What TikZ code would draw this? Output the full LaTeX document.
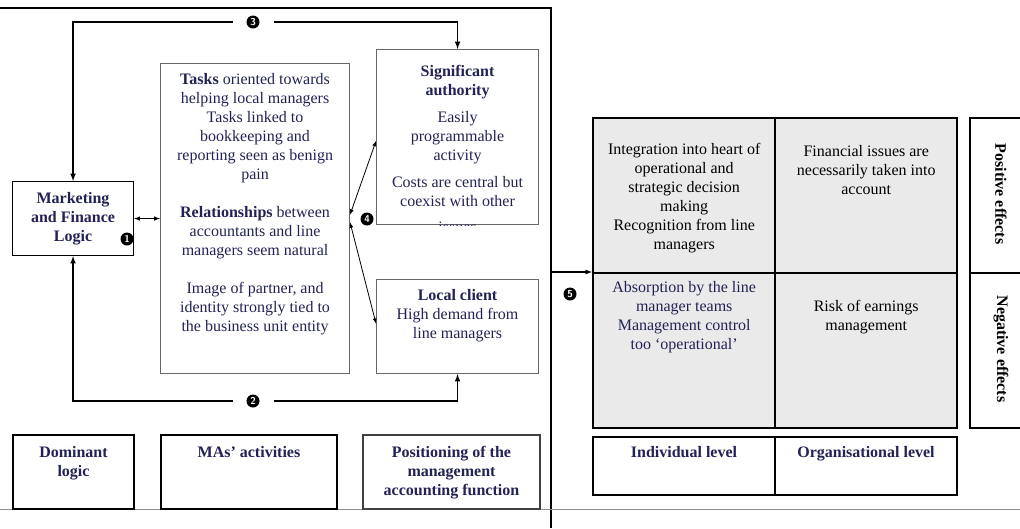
\documentclass[tikz,border=0pt]{standalone}
\usepackage{fontspec}
\setmainfont{Liberation Serif}
\usepackage[usenames,dvipsnames]{xcolor}
\usetikzlibrary{positioning,shapes,arrows,calc}
\definecolor{inkblue}{RGB}{34,34,84}
\definecolor{cellgray}{RGB}{234,234,234}

\begin{document}
\begin{tikzpicture}[x=1pt,y=-1pt,
    every node/.style={font=\fontsize{16}{19}\selectfont},
    box/.style={draw, line width=1.1pt, inner sep=0pt, anchor=north west},
    softbox/.style={draw=black!60, line width=1.1pt, inner sep=0pt, anchor=north west},
    lowbox/.style={draw, line width=2pt, inner sep=0pt, anchor=north west},
    cell/.style={draw, line width=2.4pt, fill=cellgray, inner sep=0pt, anchor=north west},
    txt/.style={align=center, inner sep=0pt, text=inkblue},
    head/.style={txt, font=\fontsize{16}{19}\selectfont\bfseries},
    num/.style={circle, fill=black, text=white, inner sep=0pt, minimum size=13pt, font=\fontsize{10}{10}\sffamily\bfseries},
    gap/.style={outer sep=14pt},
    arr/.style={-latex, line width=1.5pt},
    thin arr/.style={latex-latex, line width=0.8pt}]
\clip (0,0) rectangle (1020,528);

% frame and base line
\draw[line width=1.5pt] (0,8) -| (551,528);
\draw[black!45, line width=1pt] (0,509) -- (1020,509);

% dominant logic, activities, positioning
\node[box, head, minimum width=121pt, minimum height=74pt] (mfl) at (12,181) {Marketing\\and Finance\\Logic};
\node[num] (n1) at (127,239) {1};

\node[softbox, minimum width=189pt, minimum height=310pt] (mid) at (160,63) {};
\node[txt, below=10pt of mid.north] (midtxt) {\textbf{Tasks} oriented towards\\helping local managers\\Tasks linked to\\bookkeeping and\\reporting seen as benign\\pain\\[19pt]\textbf{Relationships} between\\accountants and line\\managers seem natural\\[19pt]Image of partner, and\\identity strongly tied to\\the business unit entity};

\node[softbox, minimum width=162pt, minimum height=175pt] (sig) at (376,49) {};
\begin{scope}
  \clip (sig.north west) rectangle (sig.south east);
  \node[txt, below=16pt of sig.north] (sigtxt) {\textbf{Significant}\\\textbf{authority}\\[8pt]Easily\\programmable\\activity\\[8pt]Costs are central but\\coexist with other\\[7pt]issues};
\end{scope}

\node[softbox, minimum width=162pt, minimum height=94pt] (loc) at (376,279) {};
\node[txt, below=10pt of loc.north] (loctxt) {\textbf{Local client}\\High demand from\\line managers};

\node[num, gap] (n3) at (253,22) {3};
\node[num, gap] (n2) at (253,401) {2};
\node[num] (n4) at (367,219) {4};

\draw[arr] (n3) -| (mfl);
\draw[arr] (n3) -| (sig);
\draw[arr] (n2) -| (mfl);
\draw[arr] (n2) -| (loc);
\draw[latex-latex, line width=1pt] (mfl) -- (mid);
\draw[thin arr] ([yshift=4pt]mid.east) -- ([yshift=-4pt]sig.west);
\draw[thin arr] ([yshift=-4pt]mid.east) -- ([yshift=3pt]loc.west);

\node[lowbox, minimum width=121pt, minimum height=74pt] (dom) at (12,434) {};
\node[head, below=12pt of dom.north] (domtxt) {Dominant\\logic};
\node[lowbox, minimum width=176pt, minimum height=74pt] (act) at (160,434) {};
\node[head, below=12pt of act.north] (acttxt) {MAs’ activities};
\node[lowbox, draw=black!75, minimum width=177pt, minimum height=74pt] (posn) at (362,434) {};
\node[head, below=12pt of posn.north] (posntxt) {Positioning of the\\management\\accounting function};

% effects grid
\node[cell, minimum width=182pt, minimum height=155pt] (c11) at (592,117) {};
\node[cell, minimum width=182pt, minimum height=155pt] (c12) at (774,117) {};
\node[cell, minimum width=182pt, minimum height=155pt] (c21) at (592,272) {};
\node[cell, minimum width=182pt, minimum height=155pt] (c22) at (774,272) {};
\node[txt, text=black, below=26pt of c11.north] (c11txt) {Integration into heart of\\operational and\\strategic decision\\making\\Recognition from line\\managers};
\node[txt, text=black, below=28pt of c12.north] (c12txt) {Financial issues are\\necessarily taken into\\account};
\node[txt, below=9pt of c21.north] (c21txt) {Absorption by the line\\manager teams\\Management control\\too ‘operational’};
\node[txt, text=black, below=28pt of c22.north] (c22txt) {Risk of earnings\\management};

\node[num] (n5) at (570,294) {5};
\coordinate (f5) at (551,272);
\draw[-latex, line width=1.2pt] (f5) -- (f5 -| c11.west);

\node[lowbox, minimum width=182pt, minimum height=58pt] (indiv) at (592,436) {};
\node[lowbox, minimum width=182pt, minimum height=58pt] (orga) at (774,436) {};
\node[head, below=10pt of indiv.north] (indivtxt) {Individual level};
\node[head, below=10pt of orga.north] (orgatxt) {Organisational level};

\node[lowbox, minimum width=80pt, minimum height=155pt] (poseff) at (969,117) {};
\node[lowbox, minimum width=80pt, minimum height=155pt] (negeff) at (969,272) {};
\node[head, text=black, rotate=-90] (posefftxt) at (1001,194) {Positive effects};
\node[head, text=black, rotate=-90] (negefftxt) at (1001,349) {Negative effects};
\end{tikzpicture}
\end{document}
